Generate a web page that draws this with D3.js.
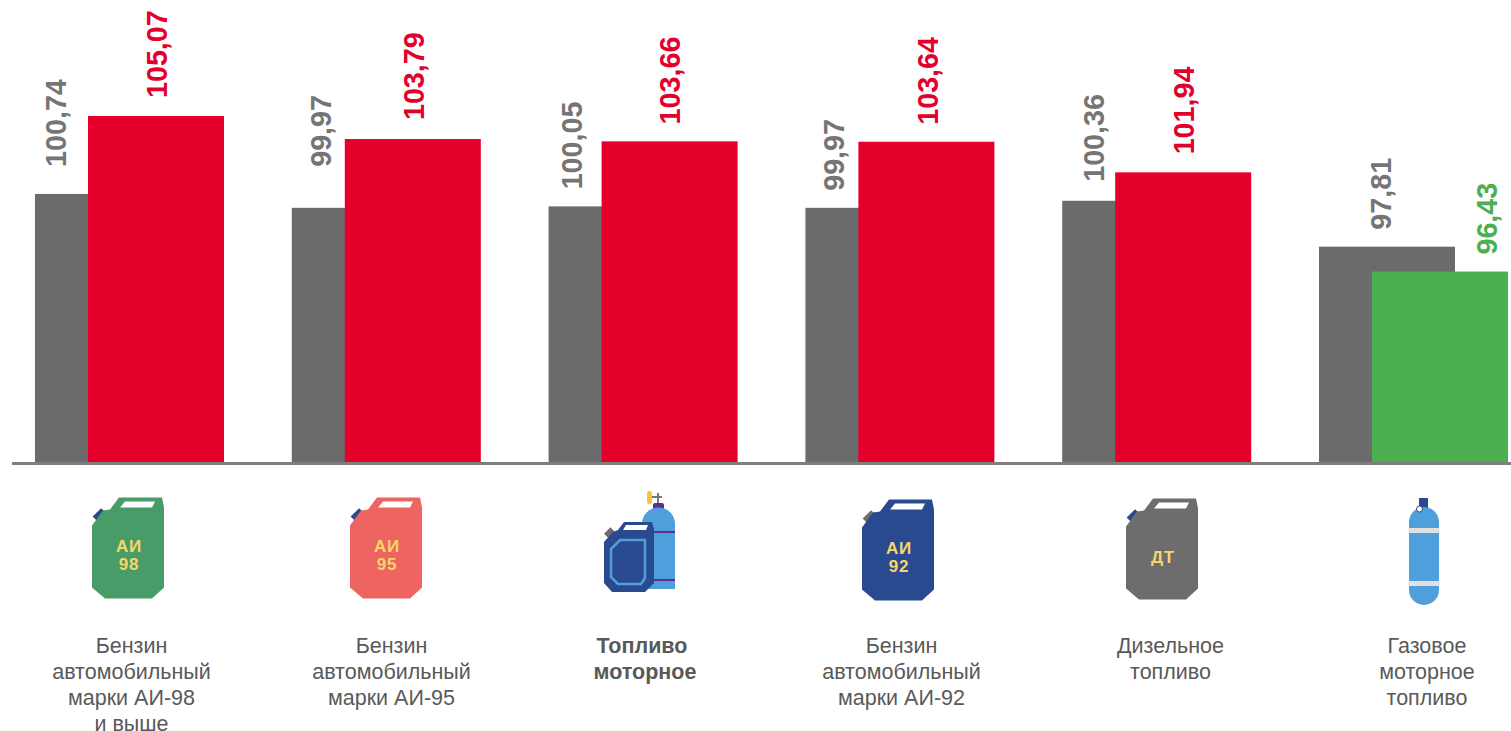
<!DOCTYPE html>
<html><head><meta charset="utf-8">
<script src="https://cdn.jsdelivr.net/npm/d3@7/dist/d3.min.js"></script>
<style>html,body{margin:0;padding:0;background:#fff;overflow:hidden}svg{display:block}text{font-family:"Liberation Sans",Arial,sans-serif}</style>
</head><body><svg id="c" width="1511" height="731"></svg>
<script>
const categories = ["ai98","ai95","motor","ai92","diesel","gas"];
const seriesNames = ["previous","current"];
const previousValues = [100.74,99.97,100.05,99.97,100.36,97.81];
const currentValues = [105.07,103.79,103.66,103.64,101.94,96.43];
const previousLabels = ["100,74","99,97","100,05","99,97","100,36","97,81"];
const currentLabels = ["105,07","103,79","103,66","103,64","101,94","96,43"];
const categoryLabels = [
  ["Бензин","автомобильный","марки АИ-98","и выше"],
  ["Бензин","автомобильный","марки АИ-95"],
  ["Топливо ","моторное"],
  ["Бензин","автомобильный","марки АИ-92"],
  ["Дизельное","топливо"],
  ["Газовое","моторное","топливо"]
];
const boldCategory = "motor";
// layout-only nudges, separate from the data
const prevLabelX = [66,331,582,844,1104,1391];
const currLabelX = [167,424,680,938,1194,1497];
const prevLabelGap = [27,41,17,17,19,17];
const currLabelGap = [18,19,17,17,18,17];
const catLabelX = [131.5,391.5,645,901.5,1170.5,1427];

const RED="#e4002b",GREEN="#4caf50",GRAY="#6b6b6b",LGRAY="#757575",TXT="#595959",LINE="#7f7f7f";
const svg=d3.select("#c");
const x=d3.scaleBand().domain(categories).range([35,1508]).paddingInner(0.264).paddingOuter(0);
const sub=d3.scalePoint().domain(seriesNames).range([0,53]);
const y=d3.scaleLinear().domain([85.85,105.07]).range([462,116]);
const barW=136;

const rows=categories.map((c,i)=>({c,i,prev:previousValues[i],cur:currentValues[i]}));
svg.selectAll("rect.prev").data(rows).join("rect").attr("class","prev")
 .attr("x",d=>x(d.c)+sub("previous")).attr("width",barW)
 .attr("y",d=>y(d.prev)).attr("height",d=>y.range()[0]-y(d.prev)).attr("fill",GRAY);
const curColor=d=>d.c==="gas"?GREEN:RED;
svg.selectAll("rect.cur").data(rows).join("rect").attr("class","cur")
 .attr("x",d=>x(d.c)+sub("current")).attr("width",barW)
 .attr("y",d=>y(d.cur)).attr("height",d=>y.range()[0]-y(d.cur)).attr("fill",curColor);
svg.append("line").attr("x1",12).attr("x2",1511).attr("y1",463.5).attr("y2",463.5).attr("stroke",LINE).attr("stroke-width",3);

const vlabel=(cls,labels,val,xs,gaps,col)=>svg.selectAll("text."+cls).data(rows).join("text").attr("class",cls)
 .attr("transform",d=>`translate(${xs[d.i]},${y(val(d))-gaps[d.i]}) rotate(-90)`)
 .attr("font-size",28.7).attr("font-weight",700).attr("fill",col).text(d=>labels[d.i]);
vlabel("pl",previousLabels,d=>d.prev,prevLabelX,prevLabelGap,LGRAY);
vlabel("cl",currentLabels,d=>d.cur,currLabelX,currLabelGap,curColor);

rows.forEach(d=>{
  const t=svg.append("text").attr("text-anchor","middle").attr("font-size",21.5).attr("xml:space","preserve")
   .style("white-space","pre")
   .attr("font-weight",d.c===boldCategory?700:400).attr("fill",TXT);
  categoryLabels[d.i].forEach((s,j)=>t.append("tspan").attr("x",catLabelX[d.i]).attr("y",652.5+j*26).text(s));
});

const canOutline="M27,0 L18,12 L11,13 L0,28 L0,90 L13,101 L60,101 L72,90 L72,10 L70,0 Z";
function can(px,py,body,cap,lines){
  const g=svg.append("g").attr("transform",`translate(${px},${py})`);
  g.append("rect").attr("x",1).attr("y",-6).attr("width",12).attr("height",7).attr("fill",cap)
   .attr("transform","translate(0,20) rotate(-45 7 -3)");
  g.append("path").attr("d",canOutline).attr("fill",body);
  g.append("path").attr("d","M33,4 L63,4 L60,10 L28,10 Z").attr("fill","#fff");
  lines.forEach((s,j)=>g.append("text").attr("x",37).attr("y",lines.length>1?54+j*18.5:64)
    .attr("text-anchor","middle").attr("font-size",17).attr("font-weight",700)
    .attr("letter-spacing",0.8).attr("fill","#f6d66b").text(s));
}
can(92,497.5,"#479c68","#2a4a8f",["АИ","98"]);
can(350,497.5,"#ee6460","#2a4a8f",["АИ","95"]);
can(862,499.5,"#2a4a8f","#6d6d6d",["АИ","92"]);
can(1126,498.5,"#6d6d6d","#2a4a8f",["ДТ"]);

// combined icon
{
  const g=svg.append("g");
  g.append("rect").attr("x",653).attr("y",503).attr("width",11).attr("height",7).attr("rx",2).attr("fill","#5f2d91");
  g.append("rect").attr("x",648).attr("y",496).attr("width",14).attr("height",2).attr("fill","#777");
  g.append("rect").attr("x",657).attr("y",493).attr("width",2).attr("height",10).attr("fill","#777");
  g.append("rect").attr("x",647).attr("y",491).attr("width",5).attr("height",13).attr("rx",2.5).attr("fill","#f8c33c");
  g.append("path").attr("d","M642,589 L642,524 A16.5,16.5 0 0 1 675,524 L675,589 Z").attr("fill","#4f9fdc");
  g.append("rect").attr("x",652).attr("y",531).attr("width",23).attr("height",2).attr("fill","#5f2d91");
  g.append("rect").attr("x",652).attr("y",579).attr("width",23).attr("height",2).attr("fill","#5f2d91");
  g.append("rect").attr("x",605).attr("y",530).attr("width",9).attr("height",6).attr("fill","#6d6d6d")
   .attr("transform","rotate(-45 609 533)");
  g.append("path").attr("d","M624,522 L618,530 L613,532 L604,542 L604,583 L612,592 L645,592 L654,583 L654,529 L652,522 Z").attr("fill","#2a4a8f");
  g.append("path").attr("d","M626,525 L648,525 L646,530 L623,530 Z").attr("fill","#fff");
  g.append("path").attr("d","M620,540 L645,540 L645,578 L641,584 L618,584 L611,577 L611,549 Z").attr("fill","none").attr("stroke","#4f9fdc").attr("stroke-width",2.5);
}
// gas icon
{
  const g=svg.append("g");
  g.append("rect").attr("x",1419).attr("y",498).attr("width",9).attr("height",11).attr("fill","#2a4a8f");
  g.append("rect").attr("x",1409).attr("y",507).attr("width",30).attr("height",98).attr("rx",15).attr("fill","#4f9fdc");
  g.append("rect").attr("x",1408.5).attr("y",528).attr("width",31).attr("height",5).attr("fill","#e0e0e0");
  g.append("rect").attr("x",1408.5).attr("y",581).attr("width",31).attr("height",5).attr("fill","#e0e0e0");
  g.append("circle").attr("cx",1419.5).attr("cy",509).attr("r",3).attr("fill","#fff").attr("stroke","#2a4a8f").attr("stroke-width",1);
}
</script></body></html>
